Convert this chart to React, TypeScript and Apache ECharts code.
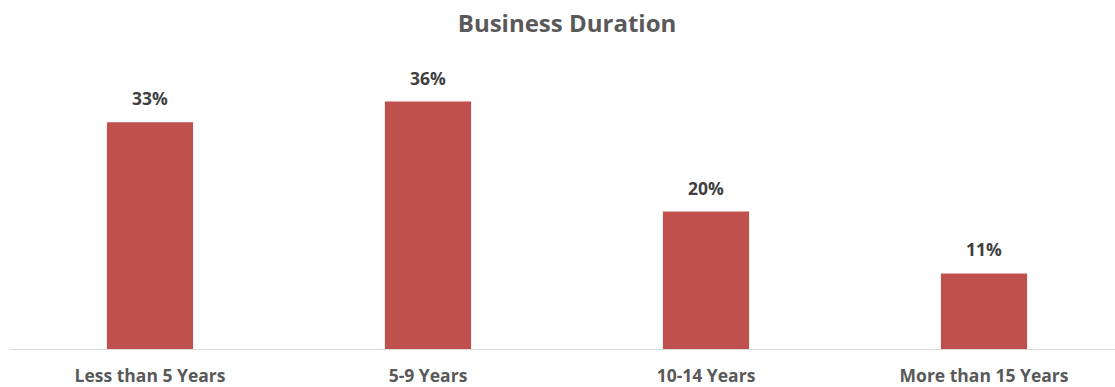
import React, { useEffect, useRef } from "react";
import * as echarts from "echarts";

const categories = ["Less than 5 Years", "5-9 Years", "10-14 Years", "More than 15 Years"];
const values = [33, 36, 20, 11];
const titleText = "Business Duration";

export default function App() {
  const ref = useRef<HTMLDivElement>(null);
  useEffect(() => {
    if (!ref.current) return;
    const chart = echarts.init(ref.current, null, { renderer: "svg" });
    chart.setOption({
      animation: false,
      title: {
        text: titleText,
        left: 562,
        textAlign: "center",
        top: 5,
        textStyle: { fontFamily: "Open Sans", fontWeight: "bold", fontSize: 24, color: "#595959" },
      },
      grid: { left: 11, right: 0, top: 74, bottom: 38, containLabel: false },
      xAxis: {
        type: "category",
        data: categories,
        axisLine: { lineStyle: { color: "#d9d9d9", width: 1 } },
        axisTick: { show: false },
        axisLabel: {
          fontFamily: "Open Sans",
          fontWeight: "bold",
          fontSize: 17.5,
          lineHeight: 18,
          color: "#595959",
          margin: 17,
        },
      },
      yAxis: {
        type: "value",
        min: 0,
        max: 40,
        show: false,
        splitLine: { show: false },
      },
      series: [
        {
          type: "bar",
          data: values,
          barWidth: "31%",
          itemStyle: { color: "#C0504D" },
          label: {
            show: true,
            position: "top",
            distance: 15,
            formatter: (p: any) => p.value + "%",
            fontFamily: "Open Sans",
            fontWeight: "bold",
            fontSize: 17.5,
            color: "#404040",
          },
        },
      ],
    });
    return () => chart.dispose();
  }, []);
  return (
    <div style={{ width: 1115, height: 387, position: "absolute", left: 0, top: 0, overflow: "hidden" }}>
      <div ref={ref} style={{ width: 1123, height: 387 }} />
    </div>
  );
}
